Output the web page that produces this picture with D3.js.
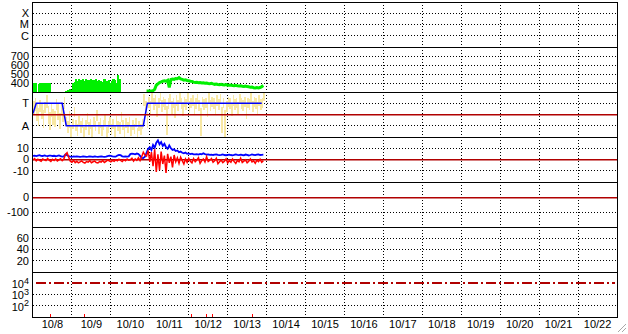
<!DOCTYPE html>
<html>
<head>
<meta charset="utf-8">
<script src="https://cdn.jsdelivr.net/npm/d3@7"></script>
<style>
  body { margin: 0; background: #fff; }
  svg { display: block; font-family: "Liberation Sans", Arial, sans-serif; }
</style>
</head>
<body>
<svg id="chart" width="628" height="334"></svg>
<script>
// --- Data (hourly, hour 0 = 10/8 00:00) ---
const dayLabels = ['10/8', '10/9', '10/10', '10/11', '10/12', '10/13', '10/14', '10/15',
  '10/16', '10/17', '10/18', '10/19', '10/20', '10/21', '10/22'];

const flareLabels = ['X', 'M', 'C'];
const flareLevels = [1e-4, 1e-5, 1e-6];
const speedTicks = [700, 600, 500, 400];
const sectorLabels = ['T', 'A'];
const sectorLevels = [1, -1];
const bTicks = [10, 0, -10];
const dstTicks = [0, -100];
const kpTicks = [60, 40, 20];
const protonExp = [4, 3, 2];

// solar wind speed, early part drawn as bars (start hour 0)
const speedEarly = [400, 395, null, 390, 400, 405, 400, 398, 402, 395, 398, null,
  null, null, null, null, null, null, null, null, 315, 320, 330, 325,
  395, 410, 440, 420, 445, 430, 450, 425, 440, 435, 438, 440,
  436, 430, 440, 425, 435, 420, 410, 440, 445, 420, 430, 400,
  425, 445, 430, 405, 490, 440];

// solar wind speed, later part drawn as a line (start hour 70)
const speedLateStart = 70;
const speedLate = [311, 311, 312, 312, 315, 330, 375, 390, 405, 412, 420, 425,
  420, 430, 350, 440, 445, 440, 450, 448, 460, 445, 440, 432,
  435, 428, 425, 420, 418, 410, 405, 408, 404, 406, 400, 403,
  398, 400, 395, 392, 396, 390, 385, 388, 384, 382, 386, 380,
  378, 382, 376, 374, 378, 372, 370, 374, 368, 366, 370, 364,
  362, 365, 360, 358, 352, 356, 348, 345, 350, 346, 350, 360, 372];

// sector polarity trend (T = +1, A = -1)
const sectorHours = [0, 2, 18, 20.5, 68, 70.5, 141];
const sectorValues = [0.1, 1, 1, -1, -1, 1, 1];

// polarity spread per hour (from hour 0): high and low values
const polarityHi = [1.2, 1.5, 0.9, 0.6, 1.3, 1.0, 0.4, 1.1, 1.7, 0.8, 0.2, 1.0, 0.5, 0.3, 1.4, 0.9, 0.1, 1.1, 0.6, 1.6,
  -0.2, -0.6, 0.3, -0.9, -0.4, 0.7, -0.5, -0.8, -0.1, -0.6, -0.3, -1.1, -0.5, 0.1, -0.7, -0.4, -1.0, -0.2, -0.6, 0.4,
  -0.7, -0.3, -0.9, -0.5, 0.0, -1.1, -0.6, -0.2, -0.8, -0.4, -1.0, -0.1, -0.6, -0.7, 0.2, -0.5, -1.1, -0.3, -0.7, -0.2,
  -0.9, -0.5, -0.8, -0.3, -1.2, -0.6, -0.8, -0.4, 1.8, 1.2,
  0.2, 1.6, 1.2, 1.9, 1.5, 1.7, 1.0, 1.5, 2.0, 1.3, 1.6, 1.4, 0.8, 1.5, 1.8, 1.2, 1.5, 1.0, 1.7, 1.3,
  1.9, 1.5, 1.1, 1.6, 1.4, 1.9, 1.2, 1.5, 1.7, 1.1, 1.5, 1.8, 1.3, 0.6, 1.6, 1.4, 1.5, 1.0, 1.9, 1.3,
  1.6, 1.5, 1.1, 1.7, 1.4, 1.8, 0.7, 1.5, 0.4, 1.2, 1.6, 1.5, 1.0, 1.7, 1.4, 1.5, 1.1, 1.8, 1.5, 1.3,
  1.6, 0.9, 1.5, 1.4, 1.9, 1.2, 1.6, 1.5, 1.1, 1.7, 1.4, 1.5, 2.0];
const polarityLo = [0.0, 0.3, -0.6, -1.0, 0.2, -0.4, -1.2, 0.1, 0.6, -0.8, -1.4, -0.2, -0.9, -1.1, 0.4, -0.5, -1.3, 0.0, -0.7, 0.5,
  -1.0, -1.6, -1.2, -2.0, -1.3, -0.2, -1.5, -1.9, -1.0, -1.6, -1.2, -2.0, -1.4, -0.8, -1.8, -1.3, -2.0, -1.1, -1.5, -0.6,
  -1.7, -1.2, -1.9, -1.4, -0.9, -2.0, -1.6, -1.1, -1.8, -1.3, -2.0, -1.0, -1.5, -1.7, -0.7, -1.4, -2.0, -1.2, -1.6, -1.0,
  -1.9, -1.4, -1.7, -1.1, -2.0, -1.5, -1.8, -1.3, 0.8, 0.2,
  -1.2, 0.6, 0.0, 1.0, 0.4, 0.8, -0.2, 0.6, 1.2, 0.2, 0.7, 0.4, -1.8, 0.5, 0.9, 0.0, 0.6, -0.3, 0.8, 0.3,
  1.0, 0.5, -0.1, 0.7, 0.4, 1.1, 0.1, 0.6, 0.8, 0.0, 0.5, 0.9, 0.3, -1.9, 0.7, 0.4, 0.6, -0.2, 1.0, 0.3,
  0.7, 0.5, 0.0, 0.8, 0.4, 0.9, -1.6, 0.6, -2.0, 0.2, 0.7, 0.5, -0.1, 0.8, 0.4, 0.6, 0.0, 0.9, 0.5, 0.3,
  0.7, -0.4, 0.6, 0.4, 1.0, 0.2, 0.7, 0.5, 0.0, 0.8, 0.4, 0.6, 1.2];

// IMF Bt (hourly from hour 0)
const bt = [3.2, 3.5, 3.0, 3.4, 3.8, 3.3, 3.1, 3.6, 3.2, 3.0, 3.4, 3.5, 3.1, 3.3, 2.9, 3.2, 3.6, 3.0, 2.6, 2.8,
  4.5, 3.8, 3.0, 2.6, 2.4, 2.7, 2.5, 2.8, 2.6, 2.4, 2.5, 2.7, 2.6, 2.3, 2.5, 2.8, 2.6, 2.4, 2.7, 2.5,
  2.4, 2.6, 2.8, 2.5, 2.3, 2.6, 3.0, 3.4, 3.2, 2.8, 2.6, 2.5, 3.5, 4.0, 3.8, 2.8, 2.6, 2.7, 2.6, 2.8,
  4.8, 5.2, 5.0, 4.6, 5.3, 4.9, 3.2, 1.5, 1.2, 2.5,
  6.0, 9.5, 11.0, 8.5, 13.0, 10.5, 15.0, 17.0, 13.5, 15.5, 12.0, 14.0, 11.0, 9.5, 12.5, 10.0, 8.5, 9.0, 7.5, 8.0,
  6.5, 7.0, 6.0, 5.5, 6.2, 5.0, 5.4, 4.8, 5.2, 4.6, 4.5, 4.8, 4.4, 5.0, 4.6, 5.5, 4.8, 4.3, 4.6, 4.2,
  4.4, 4.0, 4.3, 4.6, 4.2, 3.9, 4.1, 4.5, 4.0, 3.8, 4.2, 4.4, 4.0, 3.7, 4.1, 4.6, 4.2, 3.9, 4.3, 4.0,
  3.8, 4.4, 4.1, 3.6, 4.0, 4.5, 4.2, 3.9, 4.3, 4.6, 4.0, 4.2, 4.4];

// IMF Bz (hourly from hour 0)
const bz = [-0.5, 0.8, -1.2, 0.3, -0.8, -1.5, 0.5, -0.3, -1.0, 0.9, -0.6, -1.8, 0.2, -0.9, 0.6, -1.3, -0.4, 0.7, -1.1, 0.4,
  4.5, 6.0, 2.0, -1.5, -2.5, -0.8, -2.8, -1.6, -3.0, -2.2, -1.2, -2.6, -3.2, -1.8, -2.4, -1.0, -2.9, -2.0, -1.4, -2.7,
  -3.1, -1.9, -2.3, -0.9, -2.6, -1.7, -0.5, -1.3, -2.1, -0.8, -1.6, -0.4, -1.2, 0.3, -0.9, -1.8, -0.2, -1.1, 0.5, -0.7,
  -0.3, 1.2, -1.4, 0.6, -0.8, 1.5, -1.0, 2.5, 6.5, 4.0,
  3.0, 8.0, -2.0, 6.5, -6.0, 9.0, -11.0, 4.5, -9.5, 7.0, -4.0, 3.5, -12.0, 5.0, -3.0, 2.5, -7.0, 4.0, -2.0, 1.5,
  -3.5, 2.0, -1.0, -4.0, 0.5, -2.5, 1.0, -1.5, -3.0, 0.8, -2.0, -0.5, 1.5, -3.5, -1.0, 0.5, -2.2, 2.5, -1.8, -0.6,
  0.8, -2.5, -1.2, 1.0, -3.8, -2.0, -0.5, -2.8, -1.5, 0.6, -3.2, -1.0, -2.4, 0.4, -1.8, -3.5, -0.8, -2.0, 1.2, -2.6,
  -1.4, -0.3, -3.0, -1.6, 0.5, -2.2, -1.2, -3.4, -0.6, -1.9, 0.2, -2.5, -1.0];

// event marks along the bottom panel (hours)
const eventHours = [10.5, 31.6, 97.8, 107.1, 110.5, 135.2];

// --- Layout ---
const START = Date.UTC(2024, 9, 8);
const END = Date.UTC(2024, 9, 23);
const plotLeft = 33, plotRight = 617, plotTop = 2, panelH = 45;
const hour = (h) => new Date(START + h * 36e5);

const svg = d3.select('#chart');
const x = d3.scaleUtc().domain([START, END]).range([plotLeft, plotRight]);

const ys = [
  d3.scaleLog().domain([1e-7, 1e-3]),
  d3.scaleLinear().domain([300, 800]),
  d3.scaleLinear().domain([-2, 2]),
  d3.scaleLinear().domain([-20, 20]),
  d3.scaleLinear().domain([-200, 100]),
  d3.scaleLinear().domain([0, 80]),
  d3.scaleLog().domain([10, 1e5]),
].map((s, i) => s.range([plotTop + (i + 1) * panelH, plotTop + i * panelH]));

const crisp = (v) => Math.floor(v) + 0.5;
const plotBottom = plotTop + 7 * panelH;

// clip paths
const defs = svg.append('defs');
ys.forEach((s, i) => {
  defs.append('clipPath').attr('id', 'clip' + i)
    .append('rect')
    .attr('x', plotLeft).attr('y', plotTop + i * panelH)
    .attr('width', plotRight - plotLeft).attr('height', panelH);
});

// --- Grid ---
const grid = svg.append('g').attr('stroke', '#000').attr('stroke-width', 1)
  .attr('stroke-dasharray', '1,2').attr('shape-rendering', 'crispEdges');

const dayTicks = d3.utcDay.range(hour(24), new Date(END));
grid.selectAll('line.v').data(dayTicks).join('line')
  .attr('x1', (d) => crisp(x(d))).attr('x2', (d) => crisp(x(d)))
  .attr('y1', plotTop).attr('y2', plotBottom);

const gridRows = [
  [0, flareLevels], [1, speedTicks], [2, sectorLevels], [3, [10, -10]],
  [4, [-100]], [5, kpTicks], [6, [1e3, 1e2]],
];
gridRows.forEach(([i, vals]) => {
  grid.append('g').selectAll('line').data(vals).join('line')
    .attr('x1', plotLeft).attr('x2', plotRight)
    .attr('y1', (d) => crisp(ys[i](d))).attr('y2', (d) => crisp(ys[i](d)));
});

// --- Solar wind speed ---
const pSpeed = svg.append('g').attr('clip-path', 'url(#clip1)');
pSpeed.selectAll('rect').data(speedEarly.map((v, h) => ({ h, v })).filter((d) => d.v != null))
  .join('rect')
  .attr('x', (d) => x(hour(d.h)))
  .attr('width', (d) => x(hour(d.h + 1)) - x(hour(d.h)) + 0.4)
  .attr('y', (d) => ys[1](d.v))
  .attr('height', (d) => ys[1].range()[0] - ys[1](d.v))
  .attr('fill', '#00f000')
  .attr('shape-rendering', 'crispEdges');

pSpeed.append('path')
  .datum(speedLate.map((v, k) => ({ h: speedLateStart + k, v })))
  .attr('fill', 'none').attr('stroke', '#00f000').attr('stroke-width', 3)
  .attr('d', d3.line().x((d) => x(hour(d.h))).y((d) => ys[1](d.v)));

// --- Sector polarity ---
const pSector = svg.append('g').attr('clip-path', 'url(#clip2)');
pSector.selectAll('rect').data(polarityHi.map((hi, h) => ({ h, hi, lo: polarityLo[h] })))
  .join('rect')
  .attr('x', (d) => x(hour(d.h)))
  .attr('width', (d) => x(hour(d.h + 1)) - x(hour(d.h)))
  .attr('y', (d) => ys[2](d.hi))
  .attr('height', (d) => ys[2](d.lo) - ys[2](d.hi))
  .attr('fill', '#f8e8a4')
  .attr('shape-rendering', 'crispEdges');

// reference lines drawn above the scatter
const refs = svg.append('g').attr('stroke', '#b00000').attr('stroke-width', 1.6);
[[2, 0], [3, 0], [4, 0]].forEach(([i, v]) => {
  refs.append('line').attr('x1', plotLeft).attr('x2', plotRight)
    .attr('y1', Math.floor(ys[i](v)) + 0.8).attr('y2', Math.floor(ys[i](v)) + 0.8);
});
refs.append('line').attr('x1', plotLeft + 3).attr('x2', plotRight - 2)
  .attr('y1', Math.round(ys[6](1e4))).attr('y2', Math.round(ys[6](1e4)))
  .attr('stroke-width', 2)
  .attr('shape-rendering', 'crispEdges')
  .attr('stroke-dasharray', '10,3,2,3');

pSector.append('path')
  .datum(sectorHours.map((h, k) => ({ h, v: sectorValues[k] })))
  .attr('fill', 'none').attr('stroke', '#0000ff').attr('stroke-width', 1.5)
  .attr('d', d3.line().x((d) => x(hour(d.h))).y((d) => ys[2](d.v)));

// --- IMF ---
const pImf = svg.append('g').attr('clip-path', 'url(#clip3)');
const imfLine = d3.line().x((d, h) => x(hour(h))).y((d) => ys[3](d));
pImf.append('path').datum(bt).attr('fill', 'none')
  .attr('stroke', '#0000ff').attr('stroke-width', 1.8).attr('d', imfLine);
pImf.append('path').datum(bz).attr('fill', 'none')
  .attr('stroke', '#ff0000').attr('stroke-width', 1.5).attr('d', imfLine);

// --- Event marks ---
svg.append('g').selectAll('line').data(eventHours).join('line')
  .attr('x1', (d) => crisp(x(hour(d)))).attr('x2', (d) => crisp(x(hour(d))))
  .attr('y1', plotBottom).attr('y2', plotBottom - 3)
  .attr('stroke', '#ff0000').attr('shape-rendering', 'crispEdges');

// --- Frame and panel dividers ---
const frame = svg.append('g').attr('stroke', '#000').attr('fill', 'none')
  .attr('shape-rendering', 'crispEdges');
frame.append('rect').attr('x', plotLeft - 0.5).attr('y', plotTop + 0.5)
  .attr('width', plotRight - plotLeft + 0.5).attr('height', 7 * panelH);
frame.selectAll('line').data(d3.range(1, 7)).join('line')
  .attr('x1', plotLeft).attr('x2', plotRight)
  .attr('y1', (d) => plotTop + d * panelH + 0.5).attr('y2', (d) => plotTop + d * panelH + 0.5);

// --- Labels ---
const labels = svg.append('g').attr('font-size', 11).attr('text-anchor', 'end').attr('fill', '#000');
const addLabels = (i, vals, texts) => {
  labels.append('g').selectAll('text').data(vals).join('text')
    .attr('x', 29).attr('y', (d) => ys[i](d)).attr('dy', '0.36em')
    .text((d, k) => texts[k]);
};
addLabels(0, flareLevels, flareLabels);
addLabels(1, speedTicks, speedTicks.map(String));
addLabels(2, sectorLevels, sectorLabels);
addLabels(3, bTicks, bTicks.map(String));
addLabels(4, dstTicks, dstTicks.map(String));
addLabels(5, kpTicks, kpTicks.map(String));

labels.append('g').selectAll('text').data(protonExp).join('text')
  .attr('x', 29).attr('y', (d) => ys[6](Math.pow(10, d))).attr('dy', '0.45em')
  .call((t) => {
    t.append('tspan').text('10');
    t.append('tspan').attr('dy', '-0.5em').attr('font-size', 9).text((d) => d);
  });

svg.append('g').attr('font-size', 11).attr('text-anchor', 'middle')
  .selectAll('text').data(dayLabels).join('text')
  .attr('x', (d, k) => x(hour(k * 24 + 12)))
  .attr('y', 328)
  .text((d) => d);

// window resize grip
svg.append('g').attr('stroke', '#a8a8a8').selectAll('line').data([0, 4, 8]).join('line')
  .attr('x1', 626).attr('y1', (d) => 324 + d)
  .attr('x2', (d) => 618 + d).attr('y2', 332);
</script>
</body>
</html>
